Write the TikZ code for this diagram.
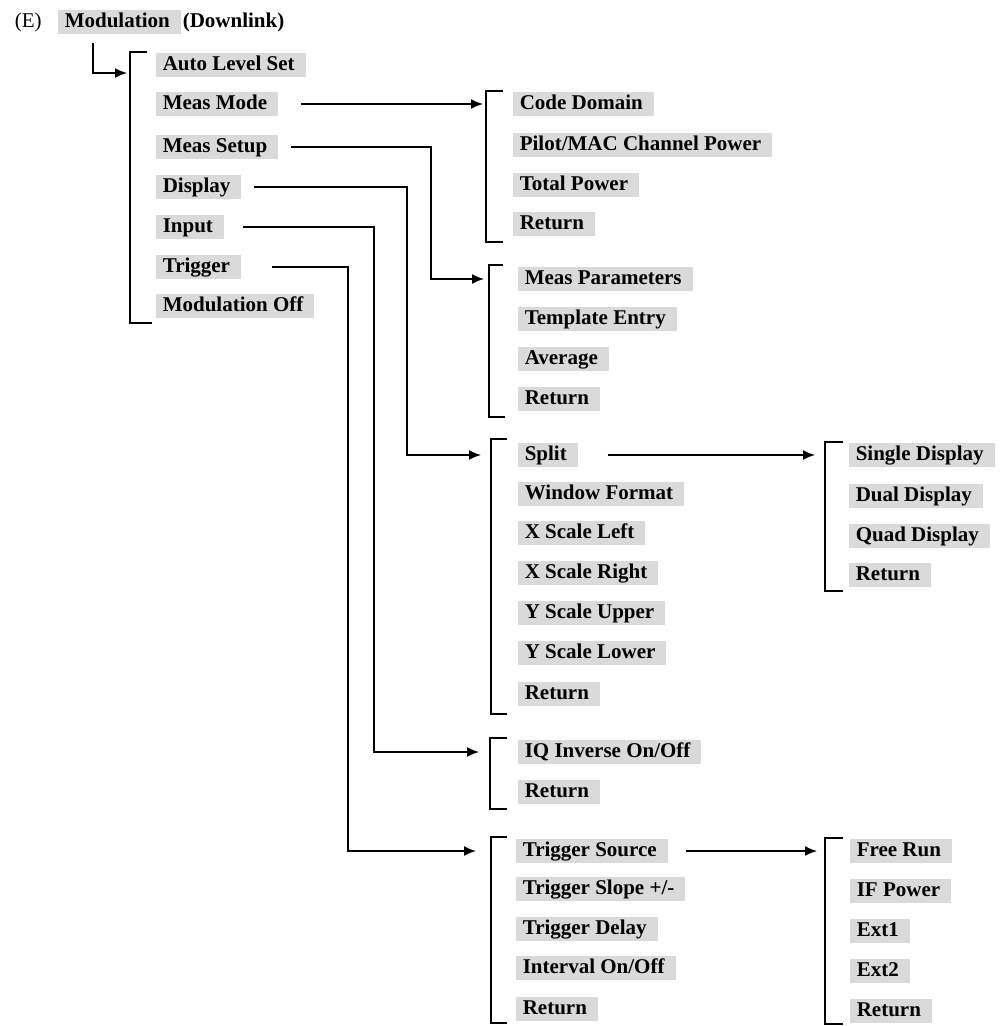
\documentclass[tikz,border=0pt]{standalone}
\usepackage{fontspec}
\setmainfont{Liberation Serif}
\usetikzlibrary{arrows.meta}
\definecolor{keyshade}{RGB}{218,218,218}

\tikzset{
  softkey/.style={anchor=west, fill=keyshade, font=\fontsize{21}{24}\selectfont\bfseries,
    inner xsep=7pt, inner ysep=2.5pt, text height=15pt, text depth=4pt,
    execute at end node={\hspace{4pt}}},
  plainlbl/.style={anchor=west, inner sep=0pt, font=\fontsize{21}{24}\selectfont},
}

\begin{document}
\begin{tikzpicture}[x=1pt, y=-1pt, >={Latex[length=12pt,width=10pt]}, line width=1.6pt]
    \useasboundingbox (0,0) rectangle (1000,1026);

    % title line
    \node[plainlbl] (tag) at (14,22) {(E)};
    \node[softkey] (mod) at (57,22) {Modulation};
    \node[plainlbl, font=\fontsize{21}{24}\selectfont\bfseries] (dl) at (182,22) {(Downlink)};

    % main menu
    \draw (147,52) -- (130,52) -- (130,323) -- (152,323);
    \coordinate (main) at (127,73);
    \node[softkey] (auto) at (155,65) {Auto Level Set};
    \node[softkey] (mode) at (155,104) {Meas Mode};
    \node[softkey] (setup) at (155,147) {Meas Setup};
    \node[softkey] (disp) at (155,187) {Display};
    \node[softkey] (inp) at (155,227) {Input};
    \node[softkey] (trg) at (155,267) {Trigger};
    \node[softkey] (modoff) at (155,306) {Modulation Off};
    \draw[->] ([shift={(36pt,-8pt)}]mod.south west) |- (main);

    % meas mode
    \draw (503,91) -- (486,91) -- (486,242) -- (503,242);
    \coordinate (modein) at (483,104);
    \node[softkey] (codedom) at (512,104) {Code Domain};
    \node[softkey] (pilot) at (512,145) {Pilot/MAC Channel Power};
    \node[softkey] (totpow) at (512,185) {Total Power};
    \node[softkey] (ret1) at (512,224) {Return};
    \draw[->] ([xshift=22pt]mode.east) -- (modein);

    % meas setup
    \draw (503,265) -- (489,265) -- (489,417) -- (505,417);
    \coordinate (parin) at (484,279);
    \node[softkey] (params) at (517,279) {Meas Parameters};
    \node[softkey] (templ) at (517,319) {Template Entry};
    \node[softkey] (avg) at (517,359) {Average};
    \node[softkey] (ret2) at (517,399) {Return};
    \draw[->] ([xshift=12pt]setup.east) -| ([xshift=-53pt]parin) -- (parin);

    % display
    \draw (507,439) -- (491,439) -- (491,714) -- (507,714);
    \coordinate (dispin) at (481,455);
    \node[softkey] (split) at (517,455) {Split};
    \node[softkey] (winfmt) at (517,494) {Window Format};
    \node[softkey] (xleft) at (517,533) {X Scale Left};
    \node[softkey] (xright) at (517,573) {X Scale Right};
    \node[softkey] (yupper) at (517,613) {Y Scale Upper};
    \node[softkey] (ylower) at (517,653) {Y Scale Lower};
    \node[softkey] (ret3) at (517,694) {Return};
    \draw[->] ([xshift=12pt]disp.east) -| ([xshift=-74pt]dispin) -- (dispin);

    % split
    \draw (843,442) -- (825,442) -- (825,591) -- (843,591);
    \coordinate (splitin) at (815,455);
    \node[softkey] (single) at (848,455) {Single Display};
    \node[softkey] (dual) at (848,496) {Dual Display};
    \node[softkey] (quad) at (848,536) {Quad Display};
    \node[softkey] (ret4) at (848,575) {Return};
    \draw[->] ([xshift=29pt]split.east) -- (splitin);

    % input
    \draw (507,738) -- (490,738) -- (490,809) -- (507,809);
    \coordinate (inpin) at (479,752);
    \node[softkey] (iqinv) at (517,752) {IQ Inverse On/Off};
    \node[softkey] (ret5) at (517,792) {Return};
    \draw[->] ([xshift=18pt]inp.east) -| ([xshift=-105pt]inpin) -- (inpin);

    % trigger
    \draw (507,837) -- (491,837) -- (491,1023) -- (507,1023);
    \coordinate (trgin) at (476,851);
    \node[softkey] (trgsrc) at (515,851) {Trigger Source};
    \node[softkey] (slope) at (515,889) {Trigger Slope +/-};
    \node[softkey] (delay) at (515,929) {Trigger Delay};
    \node[softkey] (interval) at (515,968) {Interval On/Off};
    \node[softkey] (ret6) at (515,1009) {Return};
    \draw[->] ([xshift=30pt]trg.east) -| ([xshift=-128pt]trgin) -- (trgin);

    % trigger source
    \draw (843,838) -- (825,838) -- (825,1024) -- (843,1024);
    \coordinate (srcin) at (817,851);
    \node[softkey] (freerun) at (849,851) {Free Run};
    \node[softkey] (ifpow) at (849,891) {IF Power};
    \node[softkey] (ext1) at (849,931) {Ext1};
    \node[softkey] (ext2) at (849,971) {Ext2};
    \node[softkey] (ret7) at (849,1011) {Return};
    \draw[->] ([xshift=17pt]trgsrc.east) -- (srcin);
\end{tikzpicture}
\end{document}
